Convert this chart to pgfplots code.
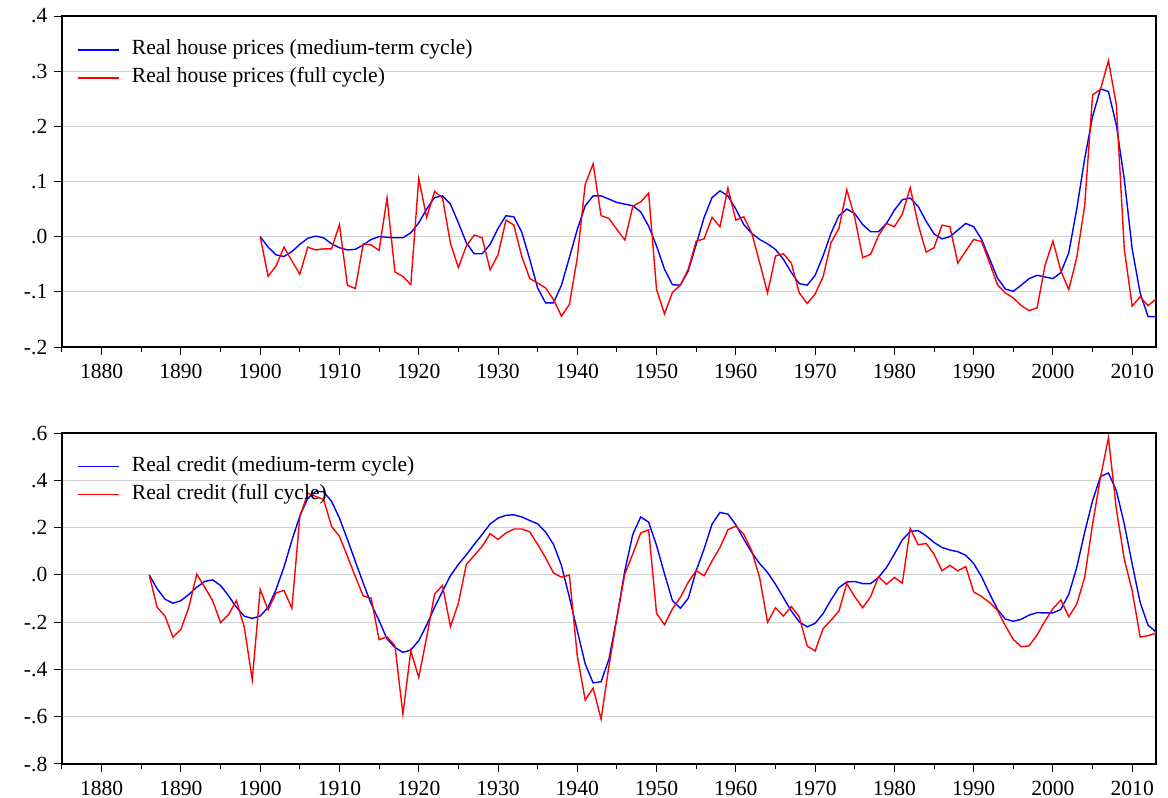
\documentclass[border=0pt]{standalone}
\usepackage{fontspec}
\setmainfont{Liberation Serif}
\usepackage{pgfplots}
\usepackage{pgfplotstable}
\pgfplotsset{compat=1.18}

% year, medium-term cycle, full cycle
\pgfplotstableread{
year med full
1900 0 0
1901 -0.019 -0.072
1902 -0.033 -0.053
1903 -0.036 -0.019
1904 -0.027 -0.044
1905 -0.014 -0.068
1906 -0.003 -0.019
1907 0.001 -0.024
1908 -0.002 -0.022
1909 -0.013 -0.022
1910 -0.020 0.022
1911 -0.024 -0.088
1912 -0.023 -0.094
1913 -0.015 -0.013
1914 -0.005 -0.015
1915 0.000 -0.025
1916 -0.001 0.070
1917 -0.002 -0.064
1918 -0.002 -0.072
1919 0.007 -0.087
1920 0.025 0.105
1921 0.050 0.035
1922 0.071 0.082
1923 0.074 0.070
1924 0.059 -0.012
1925 0.025 -0.056
1926 -0.011 -0.017
1927 -0.031 0.003
1928 -0.031 -0.002
1929 -0.014 -0.060
1930 0.015 -0.033
1931 0.038 0.030
1932 0.036 0.021
1933 0.008 -0.036
1934 -0.041 -0.076
1935 -0.093 -0.084
1936 -0.120 -0.093
1937 -0.120 -0.114
1938 -0.088 -0.144
1939 -0.038 -0.123
1940 0.013 -0.038
1941 0.056 0.095
1942 0.074 0.132
1943 0.074 0.038
1944 0.068 0.033
1945 0.062 0.013
1946 0.059 -0.006
1947 0.056 0.055
1948 0.045 0.063
1949 0.019 0.079
1950 -0.017 -0.096
1951 -0.059 -0.140
1952 -0.087 -0.101
1953 -0.088 -0.088
1954 -0.062 -0.059
1955 -0.014 -0.008
1956 0.035 -0.004
1957 0.071 0.035
1958 0.083 0.018
1959 0.074 0.088
1960 0.050 0.030
1961 0.022 0.036
1962 0.006 0.007
1963 -0.005 -0.047
1964 -0.013 -0.102
1965 -0.023 -0.035
1966 -0.041 -0.031
1967 -0.065 -0.048
1968 -0.085 -0.102
1969 -0.088 -0.121
1970 -0.070 -0.104
1971 -0.035 -0.073
1972 0.006 -0.011
1973 0.038 0.015
1974 0.050 0.085
1975 0.042 0.035
1976 0.022 -0.038
1977 0.009 -0.032
1978 0.009 0.002
1979 0.024 0.024
1980 0.048 0.018
1981 0.067 0.041
1982 0.070 0.089
1983 0.055 0.022
1984 0.028 -0.028
1985 0.005 -0.020
1986 -0.004 0.021
1987 0.000 0.018
1988 0.012 -0.048
1989 0.024 -0.026
1990 0.018 -0.005
1991 -0.005 -0.009
1992 -0.040 -0.047
1993 -0.075 -0.087
1994 -0.095 -0.102
1995 -0.099 -0.111
1996 -0.088 -0.125
1997 -0.076 -0.134
1998 -0.070 -0.129
1999 -0.073 -0.052
2000 -0.076 -0.008
2001 -0.065 -0.062
2002 -0.029 -0.096
2003 0.050 -0.038
2004 0.141 0.056
2005 0.218 0.257
2006 0.268 0.267
2007 0.263 0.319
2008 0.202 0.239
2009 0.104 -0.023
2010 -0.023 -0.126
2011 -0.102 -0.109
2012 -0.145 -0.125
2013 -0.145 -0.113
}\houseprices

\pgfplotstableread{
year med full
1886 0 0
1887 -0.059 -0.137
1888 -0.103 -0.175
1889 -0.120 -0.264
1890 -0.109 -0.230
1891 -0.083 -0.137
1892 -0.052 0.003
1893 -0.028 -0.052
1894 -0.021 -0.109
1895 -0.045 -0.202
1896 -0.088 -0.168
1897 -0.137 -0.109
1898 -0.175 -0.222
1899 -0.184 -0.444
1900 -0.174 -0.062
1901 -0.137 -0.148
1902 -0.062 -0.076
1903 0.033 -0.066
1904 0.146 -0.141
1905 0.249 0.245
1906 0.324 0.346
1907 0.353 0.332
1908 0.352 0.319
1909 0.311 0.205
1910 0.240 0.163
1911 0.150 0.079
1912 0.057 -0.007
1913 -0.035 -0.089
1914 -0.123 -0.099
1915 -0.194 -0.274
1916 -0.271 -0.262
1917 -0.307 -0.300
1918 -0.328 -0.589
1919 -0.318 -0.321
1920 -0.278 -0.434
1921 -0.212 -0.264
1922 -0.137 -0.081
1923 -0.069 -0.045
1924 -0.003 -0.219
1925 0.044 -0.120
1926 0.085 0.044
1927 0.129 0.082
1928 0.171 0.120
1929 0.215 0.174
1930 0.240 0.150
1931 0.252 0.177
1932 0.254 0.194
1933 0.245 0.194
1934 0.230 0.182
1935 0.216 0.129
1936 0.181 0.072
1937 0.129 0.008
1938 0.040 -0.010
1939 -0.095 -0.001
1940 -0.236 -0.342
1941 -0.377 -0.530
1942 -0.457 -0.479
1943 -0.452 -0.610
1944 -0.356 -0.384
1945 -0.180 -0.180
1946 0.018 0.004
1947 0.171 0.089
1948 0.245 0.177
1949 0.223 0.191
1950 0.124 -0.163
1951 0.004 -0.211
1952 -0.109 -0.144
1953 -0.141 -0.095
1954 -0.099 -0.031
1955 0.018 0.018
1956 0.110 -0.004
1957 0.215 0.059
1958 0.264 0.116
1959 0.257 0.191
1960 0.212 0.206
1961 0.151 0.172
1962 0.095 0.102
1963 0.048 -0.011
1964 0.010 -0.201
1965 -0.040 -0.139
1966 -0.096 -0.174
1967 -0.153 -0.134
1968 -0.199 -0.178
1969 -0.220 -0.301
1970 -0.205 -0.322
1971 -0.164 -0.228
1972 -0.106 -0.192
1973 -0.054 -0.153
1974 -0.030 -0.037
1975 -0.028 -0.093
1976 -0.037 -0.139
1977 -0.037 -0.092
1978 -0.011 -0.008
1979 0.031 -0.040
1980 0.088 -0.011
1981 0.148 -0.035
1982 0.184 0.196
1983 0.187 0.127
1984 0.165 0.133
1985 0.137 0.088
1986 0.116 0.017
1987 0.105 0.040
1988 0.098 0.017
1989 0.083 0.035
1990 0.048 -0.072
1991 -0.008 -0.092
1992 -0.079 -0.117
1993 -0.146 -0.150
1994 -0.187 -0.216
1995 -0.196 -0.273
1996 -0.188 -0.304
1997 -0.170 -0.300
1998 -0.160 -0.254
1999 -0.161 -0.195
2000 -0.161 -0.143
2001 -0.146 -0.106
2002 -0.082 -0.177
2003 0.031 -0.124
2004 0.180 -0.011
2005 0.314 0.215
2006 0.416 0.413
2007 0.431 0.580
2008 0.356 0.278
2009 0.215 0.066
2010 0.045 -0.068
2011 -0.117 -0.263
2012 -0.213 -0.257
2013 -0.242 -0.247
}\credit

\pgfplotsset{legend image code/.code={\draw[#1, line width=0.75pt] (0pt,0pt) -- (20.5pt,0pt);}}
\pgfplotsset{
  evstyle/.style={
    scale only axis, width=547pt, height=165.5pt,
    xmin=1875, xmax=2013,
    axis line style={line width=0.6pt},
    tick align=outside, xtick pos=bottom, ytick pos=left,
    xtick={1880,1890,...,2010},
    xticklabels={1880,1890,1900,1910,1920,1930,1940,1950,1960,1970,1980,1990,2000,2010},
    minor xtick={1875,1885,...,2005},
    major tick length=3.8pt, minor tick length=2.5pt,
    every tick/.style={black, line width=0.5pt},
    ymajorgrids, major grid style={gray!35, line width=0.6pt},
    tick label style={font=\fontsize{10.8}{12}\selectfont},
    xticklabel style={yshift=-1pt},
    legend style={draw=none, fill=none, at={(axis description cs:0,1)}, anchor=north west,
      xshift=7.5pt, yshift=-11pt, inner sep=0pt, row sep=3pt,
      font=\fontsize{10.8}{12}\selectfont,
      nodes={inner sep=1pt, text height=7pt, text depth=2pt},
      /tikz/every odd column/.append style={column sep=5pt}},
    legend cell align=left,
  }
}

\begin{document}
\begin{tikzpicture}
\useasboundingbox (-31pt,8pt) rectangle (553pt,-391pt);
\begin{axis}[evstyle, at={(0pt,0pt)}, anchor=north west,
  ymin=-0.2, ymax=0.4,
  ytick={-0.2,-0.1,0,0.1,0.2,0.3,0.4},
  yticklabels={-.2,-.1,.0,.1,.2,.3,.4},
  legend style={yshift=-0.25pt}]
  \addplot[color=blue, line width=0.7pt] table[x=year,y=med] {\houseprices};
  \addlegendentry{Real house prices (medium-term cycle)}
  \addplot[color=red, line width=0.7pt] table[x=year,y=full] {\houseprices};
  \addlegendentry{Real house prices (full cycle)}
\end{axis}
\begin{axis}[evstyle, at={(0pt,-208.5pt)}, anchor=north west,
  ymin=-0.8, ymax=0.6,
  ytick={-0.8,-0.6,-0.4,-0.2,0,0.2,0.4,0.6},
  yticklabels={-.8,-.6,-.4,-.2,.0,.2,.4,.6}]
  \addplot[color=blue, line width=0.7pt] table[x=year,y=med] {\credit};
  \addlegendentry{Real credit (medium-term cycle)}
  \addplot[color=red, line width=0.7pt] table[x=year,y=full] {\credit};
  \addlegendentry{Real credit (full cycle)}
\end{axis}
\end{tikzpicture}
\end{document}
